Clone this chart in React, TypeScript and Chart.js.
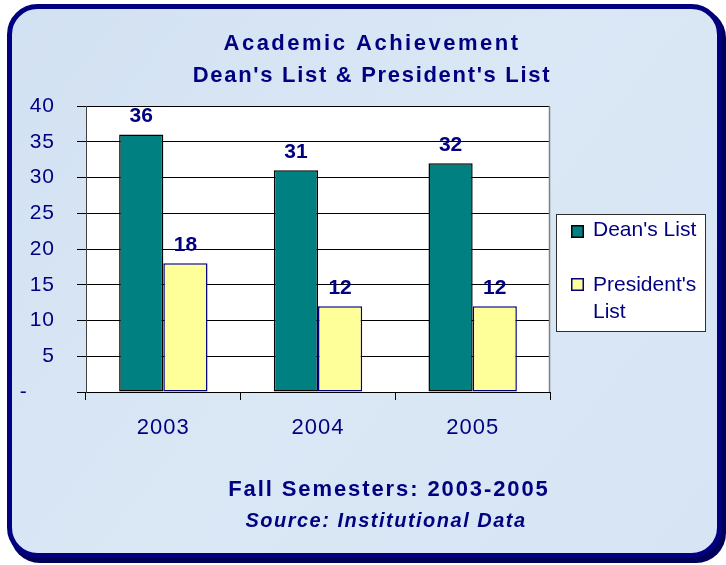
import React, { useEffect, useRef } from 'react';
import { Chart, registerables } from 'chart.js';

Chart.register(...registerables);

const categories = ['2003', '2004', '2005'];
const deansList = [36, 31, 32];
const presidentsList = [18, 12, 12];
const seriesNames = ["Dean's List", "President's List"];
const legendLines = [["Dean's List"], ["President's", 'List']];
const titleLines = ['Academic Achievement', "Dean's List & President's List"];
const footerMain = 'Fall Semesters: 2003-2005';
const footerSource = 'Source: Institutional Data';
const yMin = 0;
const yMax = 40;
const yStep = 5;

const FONT = '"Liberation Sans", Arial, Helvetica, sans-serif';
const NAVY = '#000080';
const TEAL = '#008080';
const YELLOW = '#FFFF99';

const decorPlugin = {
  id: 'decor',
  beforeDraw(chart: any) {
    const ctx = chart.ctx as CanvasRenderingContext2D;
    const ca = chart.chartArea;
    ctx.save();
    ctx.fillStyle = '#ffffff';
    ctx.fillRect(0, 0, chart.width, chart.height);
    // shadow
    ctx.fillStyle = '#000058';
    ctx.beginPath();
    (ctx as any).roundRect(10, 8, 716, 555, 30);
    ctx.fill();
    // frame
    const g = ctx.createLinearGradient(0, 0, 726, 565);
    g.addColorStop(0, '#d2e1f2');
    g.addColorStop(0.5, '#dae7f5');
    g.addColorStop(1, '#d6e4f4');
    ctx.beginPath();
    (ctx as any).roundRect(9.5, 6.5, 710, 549, 28);
    ctx.fillStyle = g;
    ctx.fill();
    ctx.lineWidth = 5;
    ctx.strokeStyle = NAVY;
    ctx.stroke();
    // plot area
    ctx.fillStyle = '#ffffff';
    ctx.fillRect(ca.left, ca.top, ca.right - ca.left, ca.bottom - ca.top);
    ctx.restore();
    (ctx as any).letterSpacing = '1px';
  },
  afterDatasetsDraw(chart: any) {
    const ctx = chart.ctx as CanvasRenderingContext2D;
    ctx.save();
    (ctx as any).letterSpacing = '0px';
    ctx.font = `bold 21px ${FONT}`;
    ctx.fillStyle = NAVY;
    ctx.textAlign = 'center';
    ctx.textBaseline = 'alphabetic';
    chart.data.datasets.forEach((ds: any, i: number) => {
      const meta = chart.getDatasetMeta(i);
      meta.data.forEach((bar: any, j: number) => {
        ctx.fillText(String(ds.data[j]), bar.x, bar.y - 12.5);
      });
    });
    ctx.restore();
  },
  afterDraw(chart: any) {
    const ctx = chart.ctx as CanvasRenderingContext2D;
    const ca = chart.chartArea;
    (ctx as any).letterSpacing = '0px';
    ctx.save();
    // plot border right
    ctx.strokeStyle = '#808080';
    ctx.lineWidth = 1.5;
    ctx.beginPath();
    ctx.moveTo(Math.round(ca.right) - 0.5, ca.top);
    ctx.lineTo(Math.round(ca.right) - 0.5, ca.bottom);
    ctx.stroke();

    ctx.fillStyle = NAVY;
    ctx.textAlign = 'center';
    ctx.textBaseline = 'alphabetic';
    // titles
    ctx.font = `bold 22px ${FONT}`;
    (ctx as any).letterSpacing = '2.5px';
    ctx.fillText(titleLines[0], 372, 50);
    (ctx as any).letterSpacing = '1.7px';
    ctx.fillText(titleLines[1], 372, 82);
    // footer
    (ctx as any).letterSpacing = '1.9px';
    ctx.font = `bold 22px ${FONT}`;
    ctx.fillText(footerMain, 389, 496);
    (ctx as any).letterSpacing = '1.5px';
    ctx.font = `italic bold 20px ${FONT}`;
    ctx.fillText(footerSource, 386, 527);

    // legend
    (ctx as any).letterSpacing = '0px';
    ctx.fillStyle = '#ffffff';
    ctx.fillRect(556, 214, 150, 118);
    ctx.strokeStyle = '#303030';
    ctx.lineWidth = 1;
    ctx.strokeRect(556.5, 214.5, 149, 117);
    const colors = [TEAL, YELLOW];
    const borders = ['#000000', NAVY];
    const boxY = [225, 278];
    const baseY = [236, 291];
    ctx.font = `21px ${FONT}`;
    ctx.textAlign = 'left';
    legendLines.forEach((lines, i) => {
      ctx.fillStyle = colors[i];
      ctx.fillRect(571, boxY[i], 13, 13);
      ctx.strokeStyle = borders[i];
      ctx.lineWidth = 1.5;
      ctx.strokeRect(571.75, boxY[i] + 0.75, 11.5, 11.5);
      ctx.fillStyle = NAVY;
      lines.forEach((ln, k) => {
        ctx.fillText(ln, 593, baseY[i] + k * 27);
      });
    });
    ctx.restore();
  },
};

export default function App() {
  const ref = useRef<HTMLCanvasElement | null>(null);
  useEffect(() => {
    if (!ref.current) return;
    const chart = new Chart(ref.current, {
      type: 'bar',
      data: {
        labels: categories,
        datasets: [
          {
            label: seriesNames[0],
            data: deansList,
            backgroundColor: TEAL,
            borderColor: '#000000',
            borderWidth: 1.5,
            borderSkipped: false,
            barPercentage: 1,
            categoryPercentage: 2 / 3.5,
          },
          {
            label: seriesNames[1],
            data: presidentsList,
            backgroundColor: YELLOW,
            borderColor: NAVY,
            borderWidth: 1.5,
            borderSkipped: false,
            barPercentage: 1,
            categoryPercentage: 2 / 3.5,
          },
        ],
      },
      options: {
        responsive: false,
        animation: false,
        devicePixelRatio: 1,
        layout: { padding: { left: 10, top: 106, right: 176, bottom: 113 } },
        plugins: {
          legend: { display: false },
          title: { display: false },
          tooltip: { enabled: false },
        },
        scales: {
          x: {
            offset: true,
            grid: {
              offset: true,
              drawOnChartArea: false,
              drawTicks: true,
              tickLength: 8,
              color: '#000000',
              lineWidth: 1,
            },
            border: { color: '#000000', width: 1 },
            ticks: {
              color: NAVY,
              font: { family: FONT, size: 22 },
              padding: 15,
              maxRotation: 0,
              autoSkip: false,
            },
            afterFit: (s: any) => {
              s.height = 60;
            },
          },
          y: {
            min: yMin,
            max: yMax,
            ticks: {
              stepSize: yStep,
              color: NAVY,
              font: { family: FONT, size: 21 },
              padding: 22,
              callback: (v: any) => (Number(v) === 0 ? '-    ' : String(v)),
            },
            grid: { color: '#000000', lineWidth: 1, tickLength: 9, drawTicks: true },
            border: { color: '#404040', width: 1 },
            afterFit: (s: any) => {
              s.width = 76;
            },
          },
        },
      } as any,
      plugins: [decorPlugin as any],
    });
    return () => chart.destroy();
  }, []);
  return (
    <div style={{ position: 'fixed', left: 0, top: 0, width: 726, height: 565 }}>
      <canvas ref={ref} width={726} height={565} style={{ display: 'block' }} />
    </div>
  );
}
